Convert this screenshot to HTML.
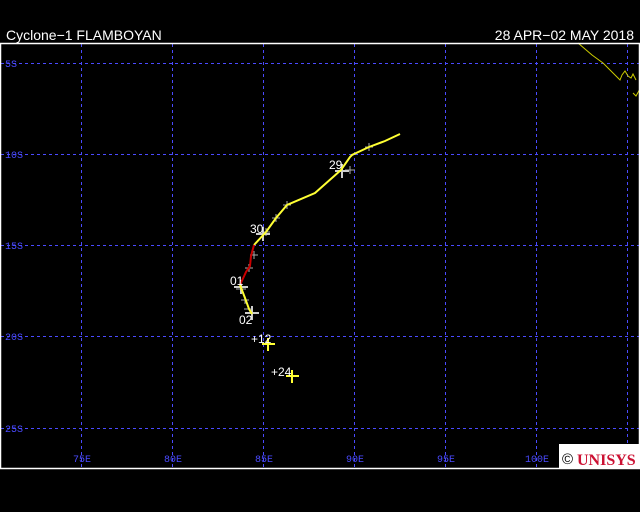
<!DOCTYPE html>
<html><head><meta charset="utf-8"><style>
body{margin:0;background:#000;width:640px;height:512px;overflow:hidden}
svg{display:block}
</style></head><body>
<svg width="640" height="512" xmlns="http://www.w3.org/2000/svg">
<rect width="640" height="512" fill="#000"/>
<g font-family="Liberation Sans, sans-serif" font-size="14" fill="#fff">
<text x="6" y="40">Cyclone−1 FLAMBOYAN</text>
<text x="634" y="40" text-anchor="end">28 APR−02 MAY 2018</text>
</g>
<g stroke="#4a4aff" stroke-width="1" stroke-dasharray="3,3">
<line x1="81.5" y1="44" x2="81.5" y2="468"/>
<line x1="172.5" y1="44" x2="172.5" y2="468"/>
<line x1="263.5" y1="44" x2="263.5" y2="468"/>
<line x1="354.5" y1="44" x2="354.5" y2="468"/>
<line x1="445.5" y1="44" x2="445.5" y2="468"/>
<line x1="536.5" y1="44" x2="536.5" y2="468"/>
<line x1="627.5" y1="44" x2="627.5" y2="468"/>
<line x1="1" y1="63.5" x2="639" y2="63.5"/>
<line x1="1" y1="154.5" x2="639" y2="154.5"/>
<line x1="1" y1="245.5" x2="639" y2="245.5"/>
<line x1="1" y1="336.5" x2="639" y2="336.5"/>
<line x1="1" y1="428.5" x2="639" y2="428.5"/>
</g>
<g font-family="Liberation Mono, monospace" font-size="10" fill="#4a4aff">
<text x="5" y="67">5S</text>
<text x="5" y="158">10S</text>
<text x="5" y="249">15S</text>
<text x="5" y="340">20S</text>
<text x="5" y="432">25S</text>
<g text-anchor="middle">
<text x="82" y="462">75E</text>
<text x="173" y="462">80E</text>
<text x="264" y="462">85E</text>
<text x="355" y="462">90E</text>
<text x="446" y="462">95E</text>
<text x="537" y="462">100E</text>
</g>
</g>
<polyline points="578,43 592,55 603,63 612,72 620,80 622,75 625,71 628,76 631,78 633,74 636,80" fill="none" stroke="#cccc00" stroke-width="1"/>
<polyline points="633,93 636,96 640,89" fill="none" stroke="#cccc00" stroke-width="1"/>
<g stroke="#aaa" stroke-width="1">
<path d="M365,147h8M369,143v8M345,170h10M350,166v8M283,205h8M287,201v8M272,218h8M276,214v8M262,232h8M266,228v8M250,255h8M254,251v8M245,268h8M249,264v8M236,289h10M241,284v10M241,300h8M245,296v8M244,309h8"/>
</g>
<g stroke="#ccc" stroke-width="2">
<path d="M335,171h14M342,164v14M256,234h14M263,227v14M234,287h14M241,280v14M245,313h14M252,306v14"/>
</g>
<polyline points="400,134 385,141 369,147 352,155 350,157 341,170 315,193 287,205 276,218 266,232 254,245" fill="none" stroke="#ffff33" stroke-width="2"/>
<polyline points="254,245 251,256 250,266 246,272 240,285" fill="none" stroke="#cc0000" stroke-width="2"/>
<polyline points="240,285 245,298 249,309 252,314" fill="none" stroke="#ffff33" stroke-width="2"/>
<g stroke="#ffff33" stroke-width="2">
<path d="M262,344h13M268,338v13M286,376h13M292,370v13"/>
</g>
<g font-family="Liberation Sans, sans-serif" font-size="12" fill="#fff">
<text x="329" y="169">29</text>
<text x="250" y="233">30</text>
<text x="230" y="285">01</text>
<text x="239" y="324">02</text>
<text x="251" y="343">+12</text>
<text x="271" y="376">+24</text>
</g>
<rect x="0.5" y="43.5" width="639" height="425" fill="none" stroke="#fff" stroke-width="1.5"/>
<rect x="559" y="444" width="81" height="25" fill="#fff"/>
<text x="562" y="464" font-family="Liberation Sans, sans-serif" font-size="15" fill="#000">©</text>
<text x="577" y="465" font-family="Liberation Serif, serif" font-weight="bold" font-size="16" fill="#cc1133">UNISYS</text>
</svg>
</body></html>
